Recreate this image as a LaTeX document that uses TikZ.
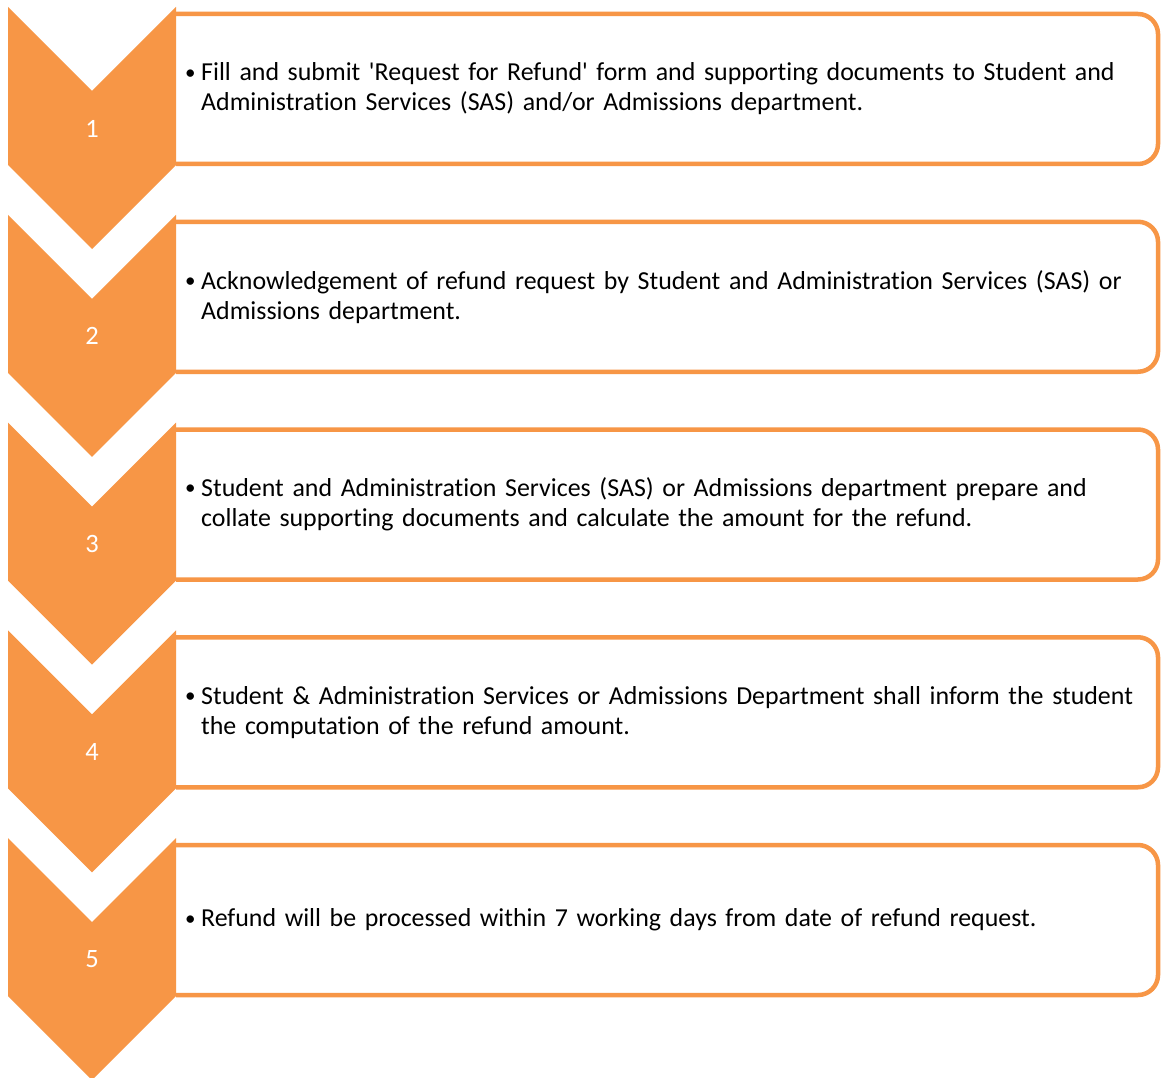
\documentclass[tikz,border=0pt]{standalone}
\usepackage{fontspec}
\setmainfont{Carlito}[Ligatures={NoCommon}]
\definecolor{acc}{HTML}{F79646}
\begin{document}
\begin{tikzpicture}[x=1pt,y=-1pt,
  chev/.style={fill=acc,draw=none},
  stepbox/.style={draw=acc,line width=4.5pt,rounded corners=20pt},
  num/.style={text=white,font=\fontsize{26.5}{30}\selectfont,inner sep=0pt},
  blt/.style={anchor=west,inner sep=0pt,font=\fontsize{21}{30}\selectfont},
  txt/.style={anchor=west,text width=975pt,align=left,inner sep=0pt,font=\fontsize{25.9}{30}\selectfont}]
\useasboundingbox[fill=white] (0,0) rectangle (1161,1078);
\foreach \i/\t/\by in {1/{Fill and submit \textquotesingle Request for Refund\textquotesingle{} form and supporting documents to Student and\\Administration Services (SAS) and/or Admissions department.}/-15,
                   2/{Acknowledgement of refund request by Student and Administration Services (SAS) or\\Admissions department.}/-15,
                   3/{Student and Administration Services (SAS) or Admissions department prepare and\\collate supporting documents and calculate the amount for the refund.}/-15,
                   4/{Student \& Administration Services or Admissions Department shall inform the student\\the computation of the refund amount.}/-15,
                   5/{Refund will be processed within 7 working days from date of refund request.}/0}{
  \pgfmathsetmacro{\top}{7+(\i-1)*207.75}
  \draw[stepbox] (176,\top+7) -- (1158,\top+7) -- (1158,\top+157) -- (176,\top+157);
  \fill[chev] (8,\top) -- (92,\top+84) -- (176,\top) -- (176,\top+158) -- (92,\top+242) -- (8,\top+158) -- cycle;
  \node[num] (n\i) at (92,\top+121.5) {\i};
  \node[txt] (t\i) at (201,\top+82) {\t};
  \node[blt] (b\i) at (185,\top+82.5+\by) {•};
}
\end{tikzpicture}
\end{document}
